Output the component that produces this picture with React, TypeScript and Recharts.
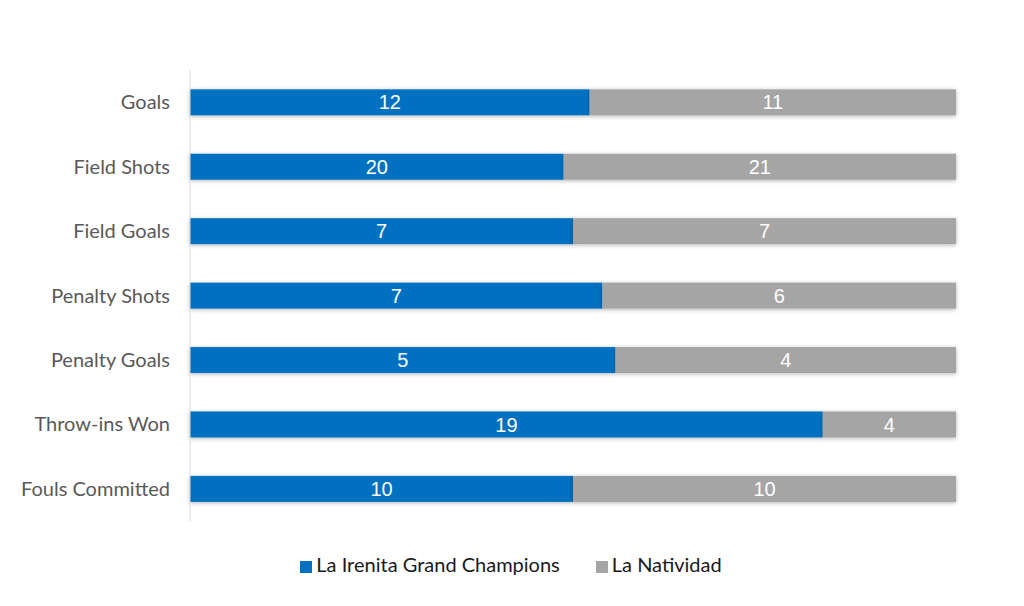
import React from 'react';
import { BarChart, Bar, XAxis, YAxis, Legend, LabelList } from 'recharts';

const categories = [
  'Goals',
  'Field Shots',
  'Field Goals',
  'Penalty Shots',
  'Penalty Goals',
  'Throw-ins Won',
  'Fouls Committed',
];
const irenita = [12, 20, 7, 7, 5, 19, 10];
const natividad = [11, 21, 7, 6, 4, 4, 10];

const BLUE = '#0070c0';
const GREY = '#a5a5a5';

const data = categories.map((name, i) => ({
  name,
  irenita: irenita[i],
  natividad: natividad[i],
}));

const ShadowBar = (props: any) => {
  const { x, y, width, height, fill } = props;
  if (!width || !height) return null;
  return <rect x={x} y={y} width={width} height={height} fill={fill} filter="url(#barShadow)" />;
};

export default function App() {
  return (
    <div style={{ position: 'absolute', left: 0, top: 0, width: 1024, height: 606, background: '#fff' }}>
      <BarChart
        width={1024}
        height={606}
        data={data}
        layout="vertical"
        stackOffset="expand"
        barCategoryGap="30%"
        margin={{ top: 70, right: 68, bottom: 61, left: 10 }}
      >
        <defs>
          <filter id="barShadow" x="-5%" y="-50%" width="110%" height="200%">
            <feDropShadow dx="0" dy="1" stdDeviation="2" floodColor="#000" floodOpacity="0.3" />
          </filter>
        </defs>
        <XAxis type="number" domain={[0, 1]} hide />
        <YAxis
          type="category"
          dataKey="name"
          width={180}
          axisLine={{ stroke: '#d9d9d9' }}
          tickLine={false}
          tickMargin={14}
          tick={{ fill: '#595959', fontSize: 20, fontFamily: 'Lato' }}
        />
        <Legend
          verticalAlign="bottom"
          iconType="square"
          iconSize={12}
          wrapperStyle={{ fontFamily: 'Lato', fontSize: 20, bottom: 30, paddingLeft: 46 }}
          formatter={(value: string) => <span style={{ color: '#1a1a1a', marginRight: 26 }}>{value}</span>}
        />
        <Bar
          dataKey="irenita"
          name="La Irenita Grand Champions"
          stackId="a"
          fill={BLUE}
          shape={<ShadowBar />}
          isAnimationActive={false}
        >
          <LabelList
            dataKey="irenita"
            position="center"
            fill="#fff"
            style={{ fontFamily: 'Liberation Sans', fontSize: 20 }}
          />
        </Bar>
        <Bar
          dataKey="natividad"
          name="La Natividad"
          stackId="a"
          fill={GREY}
          shape={<ShadowBar />}
          isAnimationActive={false}
        >
          <LabelList
            dataKey="natividad"
            position="center"
            fill="#fff"
            style={{ fontFamily: 'Liberation Sans', fontSize: 20 }}
          />
        </Bar>
      </BarChart>
    </div>
  );
}
